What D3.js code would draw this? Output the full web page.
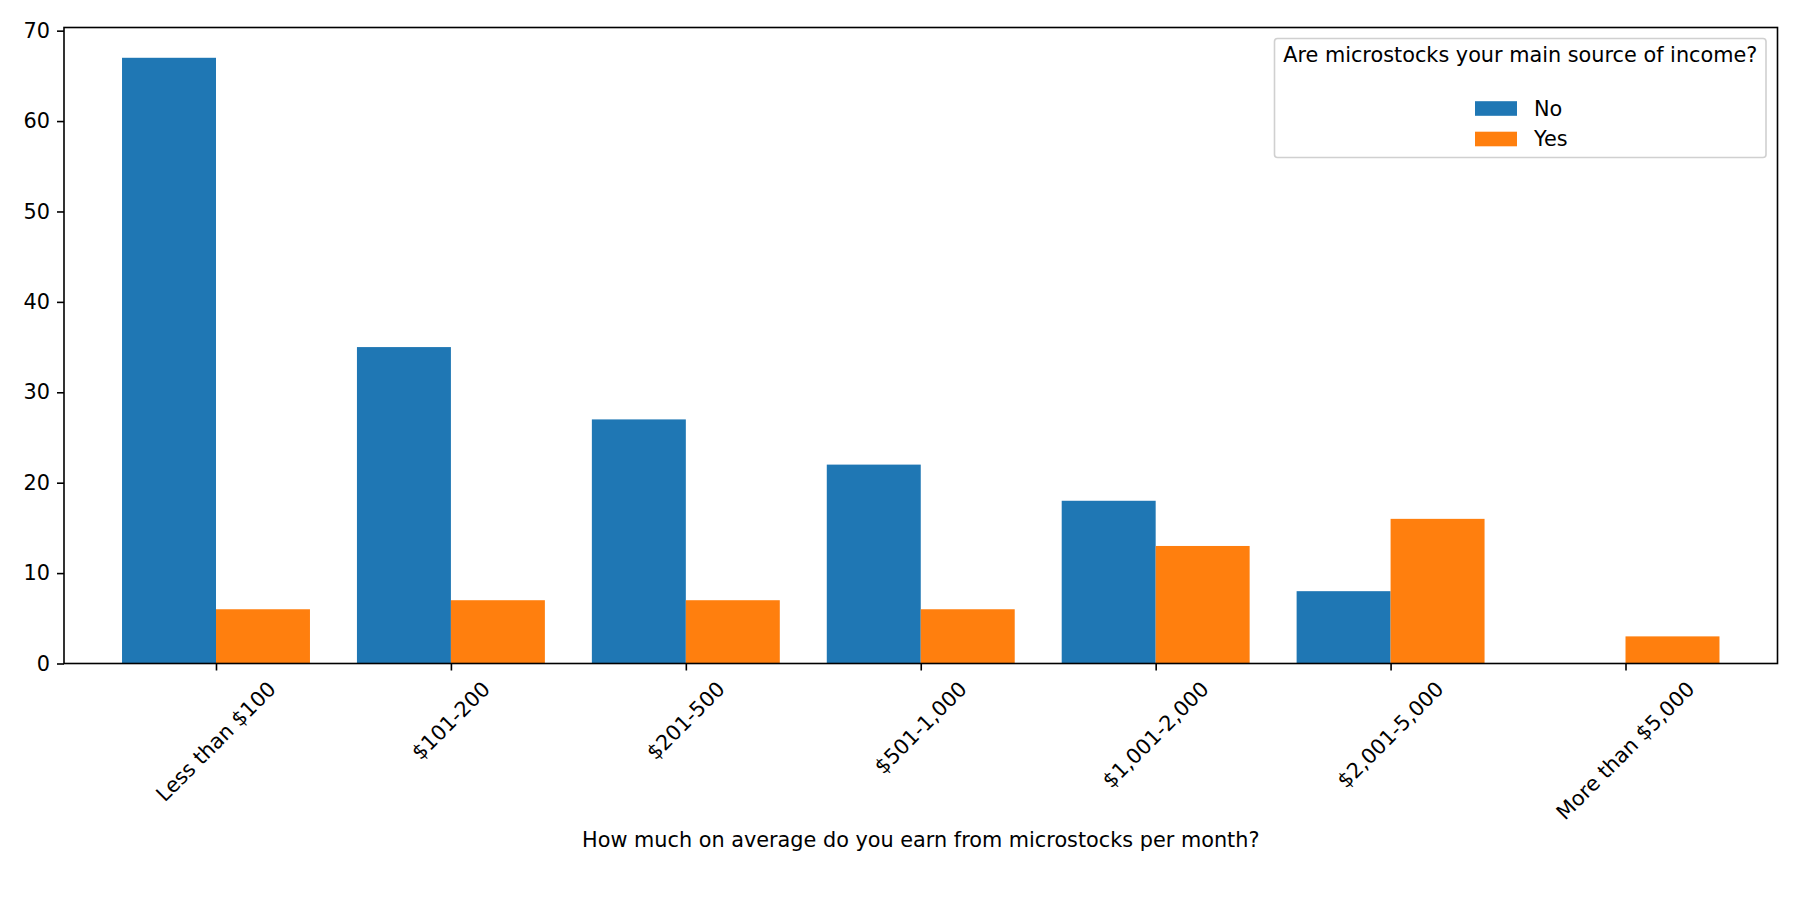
<!DOCTYPE html>
<html><head><meta charset="utf-8">
<script src="https://cdn.jsdelivr.net/npm/d3@7"></script>
<style>body{margin:0;background:#fff}svg{display:block}text{font-family:"DejaVu Sans",sans-serif;fill:#000}</style>
</head><body><svg id="c" width="1800" height="900"></svg>
<script>
const categories = ["Less than $100","$101-200","$201-500","$501-1,000","$1,001-2,000","$2,001-5,000","More than $5,000"];
const seriesNames = ["No","Yes"];
const noValues = [67,35,27,22,18,8,0];
const yesValues = [6,7,7,6,13,16,3];
const yTicks = [0,10,20,30,40,50,60,70];
const colors = ["#1f77b4","#ff7f0e"];
const xLabel = "How much on average do you earn from microstocks per month?";
const legendTitle = "Are microstocks your main source of income?";

(function(){
const svg = d3.select("#c");
const L = 64, R = 1777.5, T = 27.5, B = 663.5;
const fs = 20.8;
const x = d3.scaleLinear().domain([-0.647, categories.length - 1 + 0.647]).range([L, R]);
const yMax = d3.max(noValues.concat(yesValues)) * 1.05;
const y = d3.scaleLinear().domain([0, yMax]).range([B, T]);
const bw = 0.4;
const series = [noValues, yesValues];

series.forEach((vals, si) => {
  svg.append("g").selectAll("rect").data(vals).join("rect")
    .attr("x", (d, i) => x(i + (si === 0 ? -bw : 0)))
    .attr("width", x(bw) - x(0))
    .attr("y", d => y(d))
    .attr("height", d => y(0) - y(d))
    .attr("fill", colors[si]);
});

svg.append("rect").attr("x", L).attr("y", T).attr("width", R - L).attr("height", B - T)
  .attr("fill", "none").attr("stroke", "#000").attr("stroke-width", 1.6);

const yAxis = d3.axisLeft(y).tickValues(yTicks).tickSize(7).tickPadding(7);
const gy = svg.append("g").attr("transform", `translate(${L},0)`).call(yAxis);
gy.select(".domain").remove();
gy.selectAll("line").attr("stroke", "#000").attr("stroke-width", 1.6);
gy.selectAll("text").attr("font-size", fs).attr("font-family", "DejaVu Sans").attr("fill", "#000");

const xAxis = d3.axisBottom(x).tickValues(d3.range(categories.length)).tickSize(7).tickFormat(() => "");
const gx = svg.append("g").attr("transform", `translate(0,${B})`).call(xAxis);
gx.select(".domain").remove();
gx.selectAll("line").attr("stroke", "#000").attr("stroke-width", 1.6);

const labTop = B + 7 + 7.5;
const c = Math.SQRT1_2;
categories.forEach((lab, i) => {
  const t = svg.append("text").attr("font-size", fs).text(lab)
    .attr("text-anchor", "middle").attr("dominant-baseline", "central");
  const w = t.node().getComputedTextLength();
  const h = fs * 1.0;
  const half = (w + h) * c / 2;
  t.attr("transform", `translate(${x(i)},${labTop + half}) rotate(-45)`);
});

svg.append("text").attr("x", (L + R) / 2).attr("y", 840).attr("font-size", fs)
  .attr("text-anchor", "middle").attr("dominant-baseline", "central").text(xLabel);

const lg = svg.append("g");
const lx0 = 1274.5, lx1 = 1766, ly0 = 38.5, ly1 = 157.5;
lg.append("rect").attr("x", lx0).attr("y", ly0).attr("width", lx1 - lx0).attr("height", ly1 - ly0)
  .attr("rx", 3).attr("fill", "#fff").attr("fill-opacity", 0.8).attr("stroke", "#d0d0d0").attr("stroke-width", 1.6);
const lcx = (lx0 + lx1) / 2;
lg.append("text").attr("x", lcx).attr("y", 62.3).attr("font-size", fs).attr("text-anchor", "middle").text(legendTitle);
const entryY = [108.5, 139];
seriesNames.forEach((n, i) => {
  lg.append("rect").attr("x", 1475).attr("y", entryY[i] - 7.3).attr("width", 42).attr("height", 14.6).attr("fill", colors[i]);
  lg.append("text").attr("x", 1534).attr("y", entryY[i]).attr("font-size", fs).attr("dominant-baseline", "central").text(n);
});
})();
</script></body></html>
